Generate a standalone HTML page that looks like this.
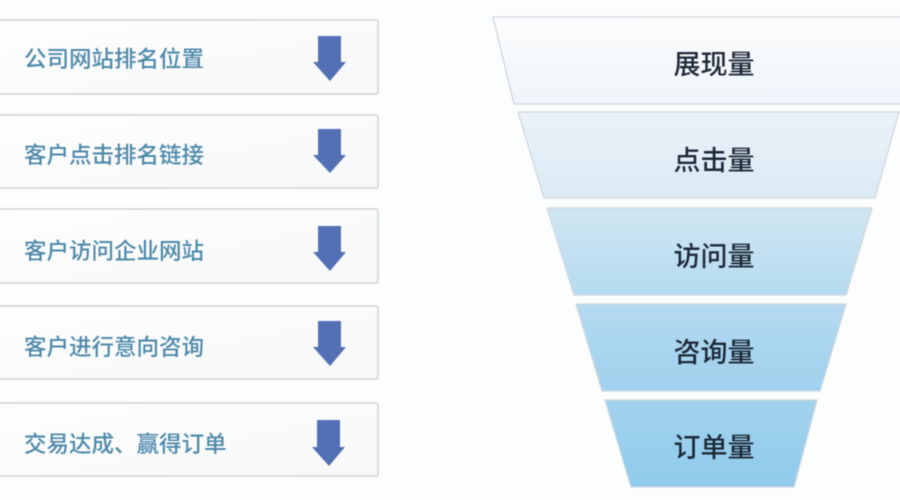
<!DOCTYPE html>
<html lang="zh">
<head>
<meta charset="utf-8">
<style>
html,body{margin:0;padding:0;background:#fcfdfd;}
svg{display:block;}
text{font-family:"Liberation Sans","Noto Sans CJK SC",sans-serif;}
.l{font-size:22.5px;fill:#4d89aa;font-weight:500;}
.r{font-size:27px;fill:#1c2838;text-anchor:middle;font-weight:500;}
.box{fill:url(#bx);stroke:#cfd2d6;stroke-width:1.5;}
.arr{fill:#5470b4;}
.f{stroke:#ccd5db;stroke-width:1.2;}
.soft{filter:blur(0.55px);}
</style>
</head>
<body>
<svg width="900" height="500" viewBox="0 0 900 500" xmlns="http://www.w3.org/2000/svg">
<defs>
<linearGradient id="bx" x1="0" y1="0" x2="1" y2="1"><stop offset="0" stop-color="#fefefe"/><stop offset="1" stop-color="#f7f8f9"/></linearGradient>
<linearGradient id="f1" x1="0" y1="0" x2="0" y2="1"><stop offset="0" stop-color="#fdfdfe"/><stop offset="1" stop-color="#eef5fa"/></linearGradient>
<linearGradient id="f2" x1="0" y1="0" x2="0" y2="1"><stop offset="0" stop-color="#ebf2f8"/><stop offset="1" stop-color="#dbeaf5"/></linearGradient>
<linearGradient id="f3" x1="0" y1="0" x2="0" y2="1"><stop offset="0" stop-color="#d0e6f3"/><stop offset="1" stop-color="#b5dbf0"/></linearGradient>
<linearGradient id="f4" x1="0" y1="0" x2="0" y2="1"><stop offset="0" stop-color="#b5daf0"/><stop offset="1" stop-color="#9fd1ee"/></linearGradient>
<linearGradient id="f5" x1="0" y1="0" x2="0" y2="1"><stop offset="0" stop-color="#a3d3ee"/><stop offset="1" stop-color="#8fcbec"/></linearGradient>
</defs>
<g class="soft">
<rect x="-3" y="20" width="381" height="74" class="box" rx="2"/>
<rect x="-3" y="115" width="381" height="73" class="box" rx="2"/>
<rect x="-3" y="209" width="381" height="74" class="box" rx="2"/>
<rect x="-3" y="306" width="381" height="73" class="box" rx="2"/>
<rect x="-3" y="403" width="381" height="73" class="box" rx="2"/>
<text class="l" x="24" y="67">公司网站排名位置</text>
<text class="l" x="24" y="163">客户点击排名链接</text>
<text class="l" x="24" y="259">客户访问企业网站</text>
<text class="l" x="24" y="355">客户进行意向咨询</text>
<text class="l" x="24" y="452">交易达成、赢得订单</text>
<polygon class="arr" points="318,36 341,36 341,62 346,62 330,81 313,62 318,62"/>
<polygon class="arr" points="318,129 341,129 341,155 346,155 330,173 313,155 318,155"/>
<polygon class="arr" points="318,226 341,226 341,252 346,252 330,271 313,252 318,252"/>
<polygon class="arr" points="318,321 341,321 341,347 346,347 330,366 313,347 318,347"/>
<polygon class="arr" points="317,420 340,420 340,447 345,447 329,466 312,447 317,447"/>
<polygon class="f" fill="url(#f1)" points="493,17 903,17 903,104 514,104"/>
<polygon class="f" fill="url(#f2)" points="518,112 899,112 875,198 544,198"/>
<polygon class="f" fill="url(#f3)" points="547,208 872,208 846,295 574,295"/>
<polygon class="f" fill="url(#f4)" points="576,304 846,304 820,391 602,391"/>
<polygon class="f" fill="url(#f5)" points="605,400 817,400 794,487 631,487"/>
<text class="r" x="714" y="74">展现量</text>
<text class="r" x="714" y="170">点击量</text>
<text class="r" x="714" y="266">访问量</text>
<text class="r" x="714" y="362">咨询量</text>
<text class="r" x="714" y="457">订单量</text>
</g>
</svg>
</body>
</html>
